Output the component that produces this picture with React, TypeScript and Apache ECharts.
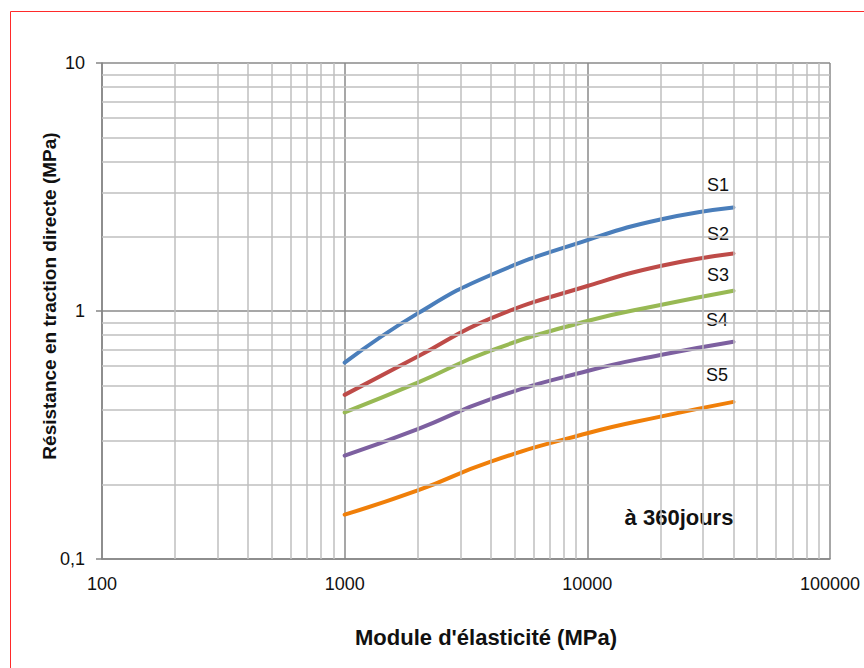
import React, { useEffect, useRef } from "react";
import * as echarts from "echarts";

const xValues = [1000, 2000, 4000, 10000, 20000, 40000];
const s1 = [0.619, 0.978, 1.397, 1.932, 2.34, 2.616];
const s2 = [0.459, 0.655, 0.934, 1.261, 1.518, 1.707];
const s3 = [0.39, 0.514, 0.692, 0.911, 1.057, 1.207];
const s4 = [0.261, 0.334, 0.441, 0.573, 0.665, 0.752];
const s5 = [0.151, 0.189, 0.247, 0.3215, 0.375, 0.43];
const seriesNames = ["S1", "S2", "S3", "S4", "S5"];
const seriesColors = ["#4a7ebb", "#be4b48", "#98b954", "#7d60a0", "#f07f09"];
const minorX = [200, 300, 400, 500, 600, 700, 800, 900, 2000, 3000, 4000, 5000, 6000, 7000, 8000, 9000, 20000, 30000, 40000, 50000, 60000, 70000, 80000, 90000];
const minorY = [0.2, 0.3, 0.4, 0.5, 0.6, 0.7, 0.8, 0.9, 2, 3, 4, 5, 6, 7, 8, 9];

const FONT = "'Liberation Sans', Arial, sans-serif";

export default function App() {
  const ref = useRef<HTMLDivElement>(null);
  useEffect(() => {
    const chart = echarts.init(ref.current!, null, { renderer: "svg" });
    const all = [s1, s2, s3, s4, s5];
    const labelPos = [
      [718, 185],
      [718, 234],
      [718, 275],
      [717, 320],
      [717, 375],
    ];
    chart.setOption({
      animation: false,
      backgroundColor: "#ffffff",
      grid: { left: 102, top: 63, right: 34, bottom: 109 },
      xAxis: {
        type: "log",
        logBase: 10,
        min: 100,
        max: 100000,
        axisLine: { show: true, lineStyle: { color: "#868686", width: 1.5 } },
        axisTick: { show: false },
        axisLabel: {
          color: "#111",
          fontFamily: FONT,
          fontSize: 18,
          margin: 16,
          formatter: (v: number) => String(Math.round(v)),
        },
        splitLine: { show: true, lineStyle: { color: "#8a8a8a", width: 1.5 } },
      },
      yAxis: {
        type: "log",
        logBase: 10,
        min: 0.1,
        max: 10,
        axisLine: { show: true, lineStyle: { color: "#868686", width: 1.5 } },
        axisTick: { show: true, length: 6, lineStyle: { color: "#868686", width: 1.5 } },
        axisLabel: {
          color: "#111",
          fontFamily: FONT,
          fontSize: 18,
          margin: 17,
          formatter: (v: number) => String(Number(v.toPrecision(3))).replace(".", ","),
        },
        splitLine: { show: true, lineStyle: { color: "#8a8a8a", width: 1.5 } },
      },
      series: [
        {
          type: "scatter",
          data: [],
          z: 1,
          silent: true,
          markLine: {
            silent: true,
            symbol: ["none", "none"],
            label: { show: false },
            emphasis: { disabled: true },
            lineStyle: { color: "#bfbfbf", width: 1.5, type: "solid" },
            data: [
              ...minorX.map((v) => ({ xAxis: v })),
              ...minorY.map((v) => ({ yAxis: v })),
            ],
          },
        },
        ...all.map((arr, i) => ({
          name: seriesNames[i],
          type: "line",
          smooth: 0.5,
          showSymbol: false,
          z: 3,
          lineStyle: { color: seriesColors[i], width: 4, cap: "round" },
          itemStyle: { color: seriesColors[i] },
          data: xValues.map((x, j) => [x, arr[j]]),
        })),
      ],
      graphic: [
        {
          type: "rect",
          shape: { x: 10.5, y: 11.5, width: 900, height: 700 },
          style: { fill: "none", stroke: "#ff2a2a", lineWidth: 1 },
          silent: true,
        },
        ...seriesNames.map((n, i) => ({
          type: "text",
          x: labelPos[i][0],
          y: labelPos[i][1],
          style: {
            text: n,
            fill: "#111",
            font: `18px ${FONT}`,
            textAlign: "center",
            textVerticalAlign: "middle",
          },
        })),
        {
          type: "text",
          x: 679,
          y: 517,
          style: {
            text: "à 360jours",
            fill: "#111",
            font: `bold 22px ${FONT}`,
            textAlign: "center",
            textVerticalAlign: "middle",
          },
        },
        {
          type: "text",
          x: 486,
          y: 637,
          style: {
            text: "Module d'élasticité (MPa)",
            fill: "#111",
            font: `bold 22px ${FONT}`,
            textAlign: "center",
            textVerticalAlign: "middle",
          },
        },
        {
          type: "text",
          x: 49,
          y: 296,
          rotation: Math.PI / 2,
          style: {
            text: "Résistance en traction directe (MPa)",
            fill: "#111",
            font: `bold 19px ${FONT}`,
            textAlign: "center",
            textVerticalAlign: "middle",
          },
        },
      ],
    });
    return () => chart.dispose();
  }, []);
  return (
    <div
      ref={ref}
      style={{ position: "fixed", left: 0, top: 0, width: 864, height: 668 }}
    />
  );
}
